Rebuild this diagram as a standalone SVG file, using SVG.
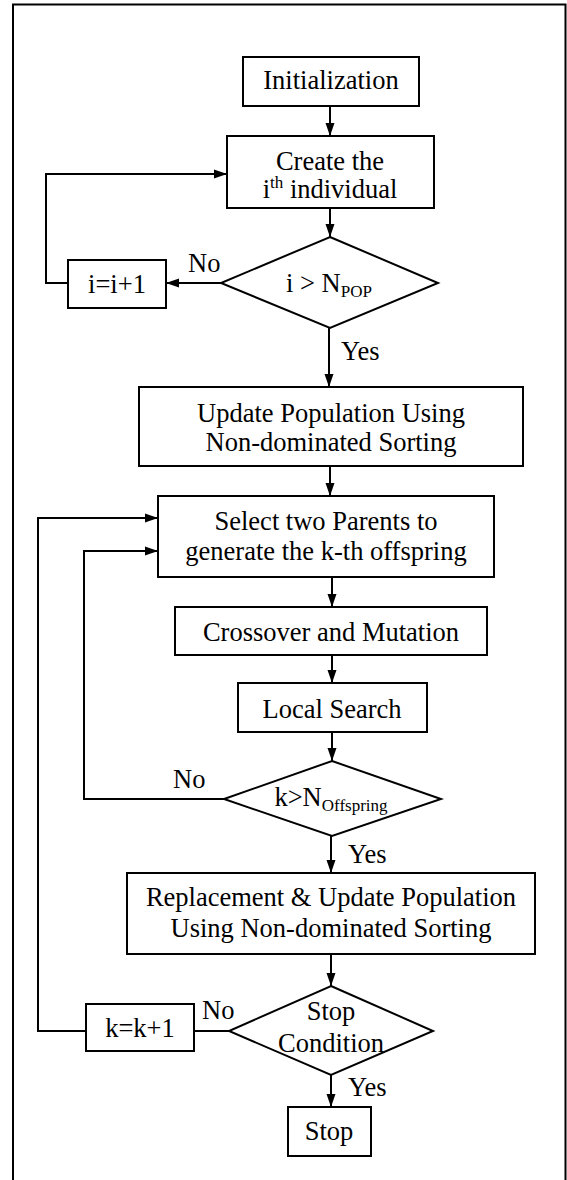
<svg xmlns="http://www.w3.org/2000/svg" width="567" height="1180" viewBox="0 0 567 1180">
<defs>
<marker id="arr" markerUnits="userSpaceOnUse" markerWidth="14" markerHeight="10" refX="13" refY="5" orient="auto">
<path d="M0,0.5 L13,5 L0,9.5 z" fill="#000"/>
</marker>
<style>
.box{fill:#fff;stroke:#000;stroke-width:2}
.t{font-family:"Liberation Serif","Times New Roman",serif;font-size:26.5px;fill:#000;text-anchor:middle}
.l{font-family:"Liberation Serif","Times New Roman",serif;font-size:26.5px;fill:#000}
.s{font-size:17px}
.c{fill:none;stroke:#000;stroke-width:2}
</style>
</defs>
<rect width="567" height="1180" fill="#fff"/>
<path d="M13,1182 V4.5 H565.5 V1182" fill="none" stroke="#000" stroke-width="2"/>

<g id="connectors">
<line class="c" x1="330" y1="106" x2="330" y2="136" marker-end="url(#arr)"/>
<line class="c" x1="330" y1="208" x2="330" y2="237" marker-end="url(#arr)"/>
<line class="c" x1="221" y1="283" x2="166" y2="283" marker-end="url(#arr)"/>
<path class="c" d="M68,283 H46 V174 H227" marker-end="url(#arr)"/>
<line class="c" x1="329" y1="328" x2="329" y2="387" marker-end="url(#arr)"/>
<line class="c" x1="330" y1="466" x2="330" y2="496" marker-end="url(#arr)"/>
<line class="c" x1="332" y1="577" x2="332" y2="607" marker-end="url(#arr)"/>
<line class="c" x1="332" y1="655" x2="332" y2="683" marker-end="url(#arr)"/>
<line class="c" x1="332" y1="732" x2="332" y2="761" marker-end="url(#arr)"/>
<path class="c" d="M224,799 H84 V551 H158" marker-end="url(#arr)"/>
<line class="c" x1="331" y1="836" x2="331" y2="873" marker-end="url(#arr)"/>
<line class="c" x1="331" y1="954" x2="331" y2="986" marker-end="url(#arr)"/>
<line class="c" x1="229" y1="1031" x2="194" y2="1031"/>
<path class="c" d="M86,1031 H38 V518 H158" marker-end="url(#arr)"/>
<line class="c" x1="331" y1="1075" x2="331" y2="1107" marker-end="url(#arr)"/>
</g>

<g id="init">
<rect class="box" x="243" y="57" width="176" height="49"/>
<text class="t" x="331" y="89">Initialization</text>
</g>
<g id="create">
<rect class="box" x="227" y="136" width="207" height="72"/>
<text class="t" x="330" y="170">Create the</text>
<text class="t" x="330" y="198">i<tspan class="s" dy="-10">th</tspan><tspan dy="10"> individual</tspan></text>
</g>
<g id="check-pop">
<polygon class="box" points="330,237 438,283 330,328 221,283"/>
<text class="t" x="329" y="292">i &gt; N<tspan class="s" dy="5">POP</tspan></text>
</g>
<g id="inc-i">
<rect class="box" x="68" y="260" width="98" height="48"/>
<text class="t" x="117" y="293">i=i+1</text>
</g>
<g id="update">
<rect class="box" x="139" y="387" width="384" height="79"/>
<text class="t" x="331" y="422">Update Population Using</text>
<text class="t" x="331" y="451">Non-dominated Sorting</text>
</g>
<g id="select">
<rect class="box" x="158" y="496" width="336" height="81"/>
<text class="t" x="326" y="530">Select two Parents to</text>
<text class="t" x="326" y="560">generate the k-th offspring</text>
</g>
<g id="crossover">
<rect class="box" x="175" y="607" width="312" height="48"/>
<text class="t" x="331" y="641">Crossover and Mutation</text>
</g>
<g id="local">
<rect class="box" x="238" y="683" width="189" height="49"/>
<text class="t" x="332" y="718">Local Search</text>
</g>
<g id="check-off">
<polygon class="box" points="332,761 441,799 332,836 224,799"/>
<text class="t" x="331" y="806">k&gt;N<tspan class="s" dy="5">Offspring</tspan></text>
</g>
<g id="replace">
<rect class="box" x="127" y="873" width="408" height="81"/>
<text class="t" x="331" y="906">Replacement &amp; Update Population</text>
<text class="t" x="331" y="937">Using Non-dominated Sorting</text>
</g>
<g id="stop-cond">
<polygon class="box" points="331,986 433,1031 331,1075 229,1031"/>
<text class="t" x="331" y="1020">Stop</text>
<text class="t" x="331" y="1052">Condition</text>
</g>
<g id="inc-k">
<rect class="box" x="86" y="1004" width="108" height="47"/>
<text class="t" x="140" y="1037">k=k+1</text>
</g>
<g id="stop">
<rect class="box" x="288" y="1107" width="83" height="49"/>
<text class="t" x="329" y="1140">Stop</text>
</g>

<g id="labels">
<text class="l" x="188" y="272">No</text>
<text class="l" x="341" y="360">Yes</text>
<text class="l" x="173" y="788">No</text>
<text class="l" x="348" y="863">Yes</text>
<text class="l" x="202" y="1019">No</text>
<text class="l" x="348" y="1096">Yes</text>
</g>
</svg>
